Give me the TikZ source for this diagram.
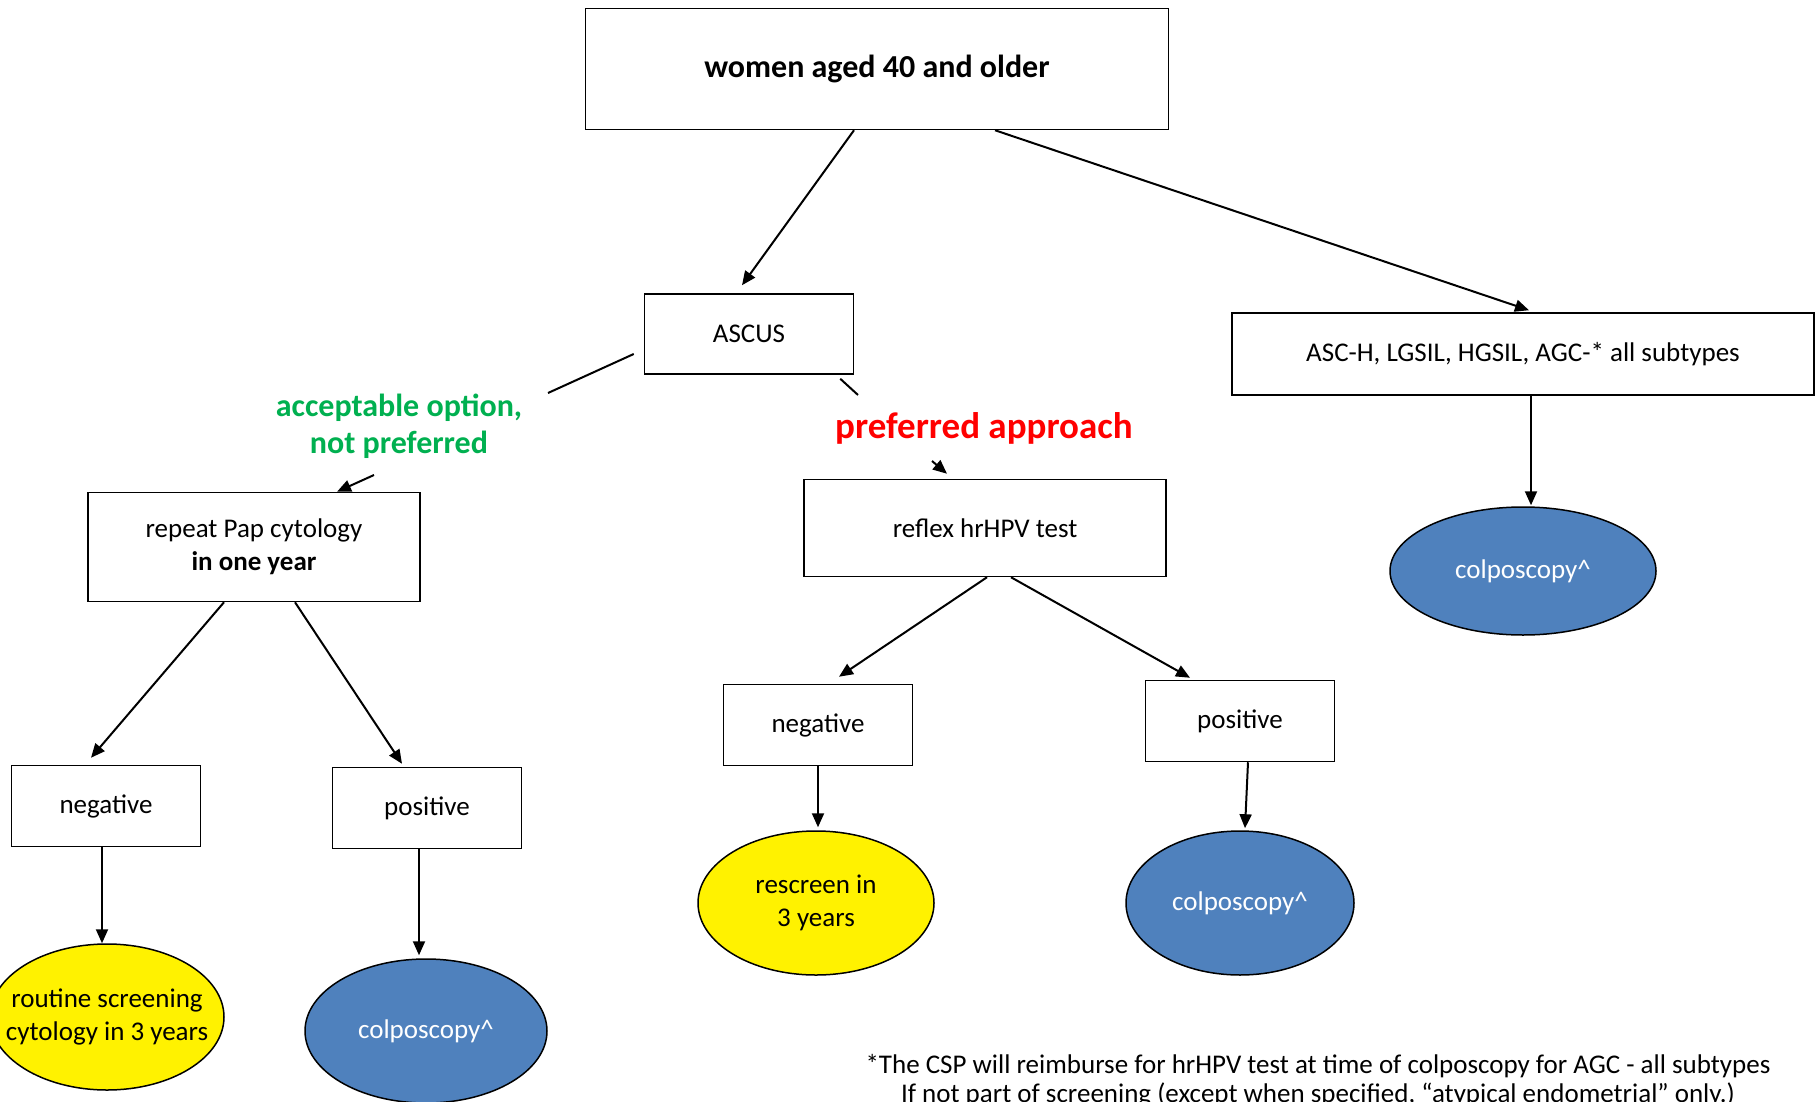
\documentclass[tikz,border=0pt]{standalone}
\usepackage{fontspec}
\setmainfont{Carlito}
\usetikzlibrary{arrows.meta,shapes.geometric,calc}
\definecolor{offblue}{HTML}{4F81BD}
\definecolor{offgreen}{HTML}{00B050}
\begin{document}
\begin{tikzpicture}[x=1pt,y=-1pt,
  box/.style={draw,line width=1.5pt,rectangle,inner sep=0pt,font=\fontsize{27}{33}\selectfont,align=center},
  yel/.style={draw,line width=1.5pt,ellipse,fill=yellow,inner sep=0pt},
  blu/.style={draw,line width=1.5pt,ellipse,fill=offblue,inner sep=0pt},
  etext/.style={font=\fontsize{27}{33}\selectfont,align=center,inner sep=0pt},
  conn/.style={line width=2pt},
  arr/.style={line width=2pt,-{Triangle[length=14pt,width=12pt]}}]
\path[use as bounding box,fill=white] (0,0) rectangle (1820,1102);
\node[box,minimum width=583pt,minimum height=121pt,font=\fontsize{32}{38}\selectfont\bfseries] (top) at (877,69) {women aged 40 and older};
\node[box,minimum width=209pt,minimum height=80pt] (ascus) at (749,334) {ASCUS};
\node[box,minimum width=582pt,minimum height=82pt] (asch) at (1523,354) {ASC-H, LGSIL, HGSIL, AGC-* all subtypes};
\node[blu,minimum width=266pt,minimum height=128pt] (colpR) at (1523,571) {};
\node[etext,text=white] (colpRt) at (colpR.center) {colposcopy\^{}};
\node[box,minimum width=332pt,minimum height=109pt] (repeat) at (254,547) {repeat Pap cytology\\ \textbf{in one year}};
\node[box,minimum width=362pt,minimum height=97pt] (reflex) at (985,528) {reflex hrHPV test};
\node[box,minimum width=189pt,minimum height=81pt] (negL) at (106,806) {negative};
\node[box,minimum width=189pt,minimum height=81pt] (posL) at (427,808) {positive};
\node[yel,minimum width=234pt,minimum height=146pt] (yelL) at (107,1017) {};
\node[etext] (yelLt) at (yelL.center) {routine screening\\cytology in 3 years};
\node[blu,minimum width=242pt,minimum height=144pt] (bluL) at (426,1031) {};
\node[etext,text=white] (bluLt) at (bluL.center) {colposcopy\^{}};
\node[box,minimum width=189pt,minimum height=81pt] (negM) at (818,725) {negative};
\node[box,minimum width=189pt,minimum height=81pt] (posM) at (1240,721) {positive};
\node[yel,minimum width=236pt,minimum height=144pt] (yelM) at (816,903) {};
\node[etext] (yelMt) at (yelM.center) {rescreen in\\ 3 years};
\node[blu,minimum width=228pt,minimum height=144pt] (bluM) at (1240,903) {};
\node[etext,text=white] (bluMt) at (bluM.center) {colposcopy\^{}};
\node[text=offgreen,font=\fontsize{32}{37}\selectfont\bfseries,align=center] (lblA) at (399,426) {acceptable option,\\not preferred};
\node[text=red,font=\fontsize{37}{42}\selectfont\bfseries] (lblP) at (984,428) {preferred approach};
\node[font=\fontsize{27}{32}\selectfont] (fn1) at (1318,1066) {*The CSP will reimburse for hrHPV test at time of colposcopy for AGC - all subtypes};
\node[font=\fontsize{27}{32}\selectfont] (fn2) at (1318,1095) {If not part of screening (except when specified, “atypical endometrial” only.)};
\coordinate (gA) at (548,393);
\coordinate (gB) at (374,475);
\coordinate (rA) at (858,395);
\coordinate (rB) at (932,461);
\draw[arr] ($(top.south)+(-23,0)$) -- ($(ascus.north)+(-7,-8)$);
\draw[arr] ($(top.south)+(118,0)$) -- ($(asch.north)+(6,-2)$);
\draw[arr] ($(asch.south)+(8,0)$) -- ($(colpR.north)+(8,-1)$);
\draw[conn] ($(ascus.west)+(-10,20)$) -- (gA);
\draw[arr] (gB) -- ($(repeat.north)+(83,0)$);
\draw[conn] ($(ascus.south east)+(-14,4)$) -- (rA);
\draw[arr] (rB) -- ($(reflex.north)+(-38,-5)$);
\draw[arr] ($(repeat.south)+(-30,0)$) -- ($(negL.north)+(-15,-7)$);
\draw[arr] ($(repeat.south)+(41,0)$) -- ($(posL.north)+(-25,-3)$);
\draw[arr] ($(negL.south)+(-4,0)$) -- ($(yelL.north)+(-5,0)$);
\draw[arr] ($(posL.south)+(-8,0)$) -- ($(bluL.north)+(-7,-3)$);
\draw[arr] ($(reflex.south)+(2,0)$) -- ($(negM.north)+(21,-7)$);
\draw[arr] ($(reflex.south)+(26,0)$) -- ($(posM.north)+(-50,-2)$);
\draw[arr] (negM.south) -- ($(yelM.north)+(2,-3)$);
\draw[arr] ($(posM.south)+(8,0)$) -- ($(bluM.north)+(5,-2)$);
\end{tikzpicture}
\end{document}
